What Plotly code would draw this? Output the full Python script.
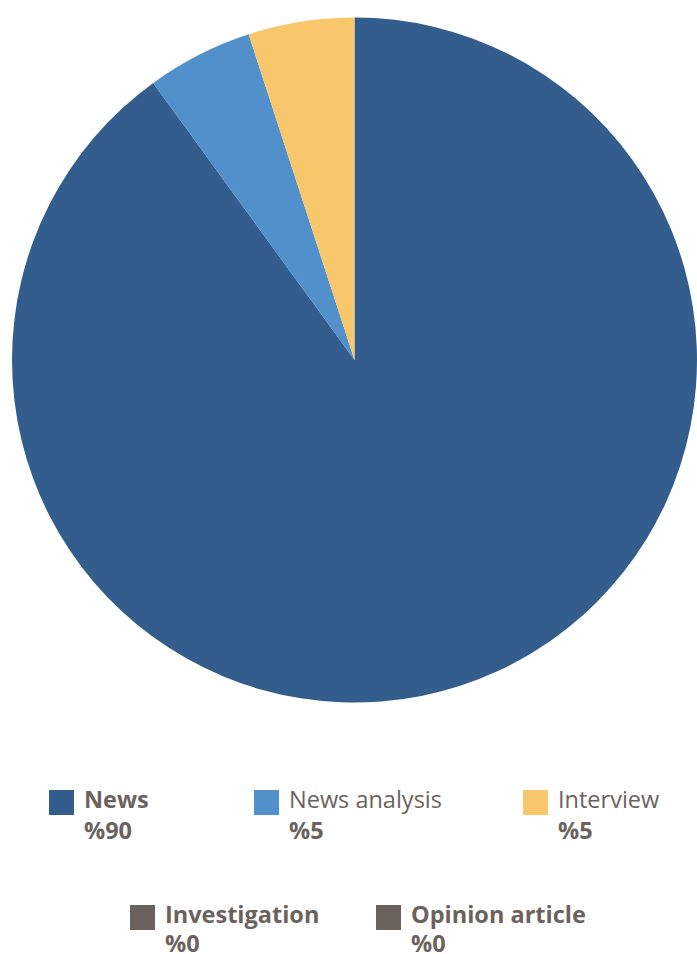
import plotly.graph_objects as go

# Share of content types
categories = ["News", "News analysis", "Interview", "Investigation", "Opinion article"]
shares = [90, 5, 5, 0, 0]
colors = ["#325d8c", "#5290cb", "#f9c76b", "#6b625e", "#6b625e"]
bold_name = [True, False, False, True, True]

W, H = 697, 954
TEXT = "#6b625e"
FONT = "'Open Sans', Lato, sans-serif"

fig = go.Figure()

# pie geometry in pixels
cx, cy, r = 354.5, 360, 342.5
fig.add_trace(go.Pie(
    labels=categories,
    values=shares,
    marker=dict(colors=colors, line=dict(width=0)),
    sort=False,
    direction="clockwise",
    rotation=0,
    textinfo="none",
    hovertemplate="%{label}: %%{value}<extra></extra>",
    domain=dict(x=[(cx - r) / W, 1.0], y=[1 - (cy + r) / H, 1 - (cy - r) / H]),
    showlegend=False,
))

# custom two-line legend: (square left px, square top px, value-line offset) per entry
legend_pos = [(49, 790, 40), (254, 790, 40), (523, 790, 40), (130, 905, 38), (376, 905, 38)]
shapes, annotations = [], []
for name, val, col, b, (lx, ty, dv) in zip(categories, shares, colors, bold_name, legend_pos):
    shapes.append(dict(
        type="rect", xref="paper", yref="paper",
        x0=lx / W, x1=(lx + 25) / W, y0=1 - (ty + 25) / H, y1=1 - ty / H,
        fillcolor=col, line=dict(width=0),
    ))
    label = f"<b>{name}</b>" if b else name
    annotations.append(dict(
        xref="paper", yref="paper", x=(lx + 33) / W, y=1 - (ty + 9) / H,
        xanchor="left", yanchor="middle", showarrow=False,
        text=label, font=dict(family=FONT, size=23.5, color=TEXT),
    ))
    annotations.append(dict(
        xref="paper", yref="paper", x=(lx + 33) / W, y=1 - (ty + dv) / H,
        xanchor="left", yanchor="middle", showarrow=False,
        text=f"<b>%{val}</b>", font=dict(family=FONT, size=23.5, color=TEXT),
    ))

fig.update_layout(
    width=W, height=H,
    margin=dict(l=0, r=0, t=0, b=0),
    paper_bgcolor="white",
    plot_bgcolor="white",
    shapes=shapes,
    annotations=annotations,
)

fig.write_html("out.html")
